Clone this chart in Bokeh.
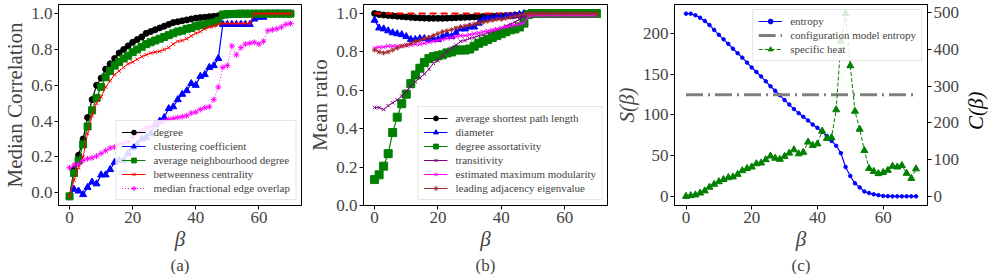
from bokeh.plotting import figure
from bokeh.layouts import row
from bokeh.models import Range1d, LinearAxis, Title, NumeralTickFormatter, Div
from bokeh.embed import file_html
from bokeh.resources import INLINE

# ---------------- data ----------------
beta = [0.0, 1.43, 2.86, 4.29, 5.71, 7.14, 8.57, 10.0, 11.43, 12.86, 14.29, 15.71, 17.14, 18.57,
        20.0, 21.43, 22.86, 24.29, 25.71, 27.14, 28.57, 30.0, 31.43, 32.86, 34.29, 35.71, 37.14,
        38.57, 40.0, 41.43, 42.86, 44.29, 45.71, 47.14, 48.57, 50.0, 51.43, 52.86, 54.29, 55.71,
        57.14, 58.57, 60.0, 61.43, 62.86, 64.29, 65.71, 67.14, 68.57, 70.0]

# (a) median correlation
corr_degree = [-0.02, 0.13, 0.21, 0.30, 0.42, 0.52, 0.60, 0.64, 0.69, 0.72, 0.75, 0.78, 0.80, 0.82,
               0.84, 0.855, 0.87, 0.89, 0.90, 0.91, 0.92, 0.93, 0.94, 0.95, 0.955, 0.96, 0.965, 0.97,
               0.975, 0.978, 0.98, 0.983, 0.985, 0.988, 0.99, 0.992, 0.994, 0.995, 0.996, 0.997,
               0.998, 0.998, 0.999, 0.999, 1.0, 1.0, 1.0, 1.0, 1.0, 1.0]
corr_clustering = [-0.02, 0.02, 0.01, -0.01, 0.03, 0.06, 0.05, 0.10, 0.10, 0.13, 0.17, 0.18, 0.18,
                   0.22, 0.25, 0.27, 0.30, 0.31, 0.33, 0.38, 0.40, 0.42, 0.47, 0.48, 0.52, 0.55,
                   0.57, 0.61, 0.60, 0.65, 0.66, 0.70, 0.71, 0.75, 0.94, 0.94, 0.94, 0.94, 0.94,
                   0.94, 0.94, 0.97, 0.98, 0.98, 1.0, 1.0, 1.0, 1.0, 1.0, 1.0]
corr_avg_nbr = [-0.02, 0.11, 0.18, 0.27, 0.37, 0.46, 0.53, 0.59, 0.645, 0.68, 0.71, 0.73, 0.75,
                0.765, 0.785, 0.80, 0.815, 0.83, 0.84, 0.85, 0.86, 0.87, 0.88, 0.89, 0.90, 0.905,
                0.915, 0.92, 0.93, 0.935, 0.94, 0.945, 0.95, 0.96, 0.995, 0.997, 0.998, 0.999,
                1.0, 1.0, 1.0, 1.0, 1.0, 1.0, 1.0, 1.0, 1.0, 1.0, 1.0, 1.0]
corr_betweenness = [-0.02, 0.07, 0.14, 0.20, 0.33, 0.43, 0.50, 0.535, 0.59, 0.625, 0.66, 0.68,
                    0.70, 0.72, 0.73, 0.745, 0.76, 0.77, 0.78, 0.785, 0.79, 0.80, 0.81, 0.83,
                    0.845, 0.85, 0.86, 0.875, 0.89, 0.90, 0.915, 0.925, 0.93, 0.94, 0.945, 0.945,
                    0.945, 0.945, 0.945, 0.945, 0.945, 1.0, 1.0, 1.0, 1.0, 1.0, 1.0, 1.0, 1.0, 1.0]
corr_overlap = [0.14, 0.155, 0.16, 0.18, 0.19, 0.195, 0.205, 0.22, 0.235, 0.25, 0.255, 0.27, 0.275,
                0.285, 0.31, 0.33, 0.345, 0.36, 0.37, 0.38, 0.39, 0.40, 0.41, 0.415, 0.42, 0.425,
                0.43, 0.445, 0.45, 0.465, 0.475, 0.48, 0.52, 0.59, 0.70, 0.71, 0.82, 0.77, 0.81,
                0.83, 0.835, 0.84, 0.83, 0.845, 0.905, 0.91, 0.915, 0.925, 0.94, 0.945]

# (b) mean ratio
ratio_aspl = [1.0, 0.995, 0.992, 0.99, 0.988, 0.986, 0.984, 0.982, 0.98, 0.978, 0.977, 0.976, 0.975,
              0.975, 0.975, 0.975, 0.976, 0.977, 0.978, 0.979, 0.98, 0.981, 0.982, 0.983, 0.984,
              0.985, 0.986, 0.987, 0.988, 0.989, 0.99, 0.991, 0.992, 0.994, 1.0, 1.0, 1.0, 1.0,
              1.0, 1.0, 1.0, 1.0, 1.0, 1.0, 1.0, 1.0, 1.0, 1.0, 1.0, 1.0]
ratio_diameter = [0.965, 0.925, 0.92, 0.91, 0.90, 0.895, 0.89, 0.88, 0.865, 0.865, 0.87, 0.87,
                  0.865, 0.87, 0.865, 0.88, 0.89, 0.88, 0.90, 0.92, 0.92, 0.93, 0.93, 0.95, 0.97,
                  0.975, 0.975, 0.98, 0.98, 0.985, 0.985, 0.99, 0.995, 1.0, 1.0, 1.0, 1.0, 1.0,
                  1.0, 1.0, 1.0, 1.0, 1.0, 1.0, 1.0, 1.0, 1.0, 1.0, 1.0, 1.0]
ratio_assort = [0.135, 0.16, 0.205, 0.27, 0.38, 0.46, 0.53, 0.58, 0.635, 0.68, 0.715, 0.745, 0.765,
                0.775, 0.78, 0.785, 0.795, 0.80, 0.81, 0.81, 0.81, 0.815, 0.83, 0.845, 0.855,
                0.865, 0.875, 0.885, 0.895, 0.905, 0.915, 0.92, 0.93, 0.95, 0.995, 1.0, 1.0, 1.0,
                1.0, 1.0, 1.0, 1.0, 1.0, 1.0, 1.0, 1.0, 1.0, 1.0, 1.0, 1.0]
ratio_transitivity = [0.51, 0.51, 0.50, 0.52, 0.535, 0.55, 0.57, 0.595, 0.62, 0.645, 0.665, 0.685,
                      0.71, 0.74, 0.755, 0.78, 0.80, 0.82, 0.835, 0.855, 0.86, 0.87, 0.875, 0.885,
                      0.89, 0.90, 0.905, 0.915, 0.925, 0.935, 0.945, 0.955, 0.97, 0.98, 0.995,
                      1.0, 1.0, 1.0, 1.0, 1.0, 1.0, 1.0, 1.0, 1.0, 1.0, 1.0, 1.0, 1.0, 1.0, 1.0]
ratio_modularity = [0.82, 0.825, 0.825, 0.83, 0.83, 0.83, 0.83, 0.835, 0.835, 0.84, 0.84, 0.845,
                    0.85, 0.855, 0.86, 0.865, 0.87, 0.875, 0.88, 0.885, 0.885, 0.89, 0.895, 0.90,
                    0.905, 0.91, 0.915, 0.92, 0.925, 0.93, 0.935, 0.94, 0.945, 0.95, 0.985, 0.99,
                    0.99, 0.99, 0.99, 0.99, 0.99, 0.99, 0.99, 0.99, 0.99, 0.99, 0.99, 0.99, 0.99, 0.99]
ratio_eigen = [0.81, 0.80, 0.795, 0.80, 0.81, 0.82, 0.83, 0.835, 0.845, 0.855, 0.86, 0.87, 0.875,
               0.885, 0.895, 0.905, 0.91, 0.915, 0.925, 0.93, 0.935, 0.94, 0.945, 0.95, 0.955,
               0.96, 0.965, 0.97, 0.97, 0.975, 0.98, 0.985, 0.99, 0.995, 1.0, 1.0, 1.0, 1.0, 1.0,
               1.0, 1.0, 1.0, 1.0, 1.0, 1.0, 1.0, 1.0, 1.0, 1.0, 1.0]
ratio_reference = 1.0

# (c) entropy and specific heat
entropy = [224, 224, 222, 219, 215, 210, 204, 198, 192.5, 187, 181, 175.5, 170, 164, 158, 152.5,
           147, 141, 135, 129.5, 124, 118, 112.5, 107, 102, 97.5, 93, 88, 84, 79, 74, 68, 62, 53,
           36, 25, 16, 11, 6, 4, 2.5, 1.5, 0.5, 0.2, 0, 0, 0, 0, 0, 0]
config_entropy = 124.5
specific_heat = [0, 2, 4, 9, 15, 25, 33, 40, 46, 51, 53, 60, 70, 76, 80, 89, 91, 100, 110, 104,
                 101, 109, 118, 127, 116, 120, 148, 139, 143, 178, 158, 160, 236, 423, 498, 356,
                 232, 183, 125, 76, 68, 62, 65, 71, 82, 80, 84, 63, 49, 75]

x_ticks = [0, 20, 40, 60]
SERIF = "Liberation Serif"
BLUE, GREEN, RED, MAG = "#0000ff", "#008000", "#ff0000", "#ff00ff"
FIG_H = 274


def style_axis(ax):
    ax.major_label_text_font = SERIF
    ax.major_label_text_font_size = "17px"
    ax.axis_label_text_font = SERIF
    ax.axis_label_text_font_size = "21px"
    ax.axis_label_text_font_style = "normal"
    ax.major_tick_in = 0
    ax.major_tick_out = 4
    ax.minor_tick_in = 0
    ax.minor_tick_out = 0
    ax.major_label_standoff = 2
    ax.axis_label_standoff = 1
    ax.axis_line_color = "black"
    ax.major_tick_line_color = "black"


def base(width, left, right, x_rng, y_rng, ylabel, panel):
    p = figure(width=width, height=FIG_H, output_backend="svg", toolbar_location=None,
               x_range=Range1d(*x_rng), y_range=Range1d(*y_rng),
               min_border_left=left, min_border_right=right, min_border_top=4,
               min_border_bottom=0)
    p.xgrid.visible = False
    p.ygrid.visible = False
    p.outline_line_color = "black"
    p.outline_line_width = 1
    p.outline_line_alpha = 1
    p.background_fill_color = "white"
    p.border_fill_color = "white"
    p.xaxis.axis_label = "β"
    p.yaxis.axis_label = ylabel
    p.xaxis.ticker = x_ticks
    for ax in p.axis:
        style_axis(ax)
    p.xaxis.axis_label_text_font_style = "italic"
    p.add_layout(Title(text=panel, align="center", text_font=SERIF, text_font_size="17px",
                       text_font_style="normal", standoff=0, offset=0), "below")
    return p


def style_legend(p, loc):
    lg = p.legend[0]
    lg.location = loc
    lg.label_text_font = SERIF
    lg.label_text_font_size = "11px"
    lg.glyph_width = 24
    lg.glyph_height = 12
    lg.label_height = 12
    lg.spacing = 2
    lg.padding = 5
    lg.margin = 5
    lg.label_standoff = 8
    lg.border_line_color = "#cccccc"
    lg.border_line_width = 1
    lg.background_fill_alpha = 0.85


def series(p, y, color, marker, size, label, dash="solid", lw=1.2, **kw):
    p.line(beta, y, line_color=color, line_width=lw, line_dash=dash, legend_label=label, **kw)
    p.scatter(beta, y, marker=marker, size=size, fill_color=color, line_color=color,
              legend_label=label, **kw)


# ---------------- panel (a) ----------------
pa = base(305, 48, 4, (-3.5, 73.5), (-0.071, 1.051), "Median Correlation", "(a)")
pa.yaxis.ticker = [0.0, 0.2, 0.4, 0.6, 0.8, 1.0]
pa.yaxis.formatter = NumeralTickFormatter(format="0.0")
series(pa, corr_degree, "black", "circle", 6, "degree")
series(pa, corr_clustering, BLUE, "triangle", 7, "clustering coefficient")
series(pa, corr_avg_nbr, GREEN, "square", 7, "average neighbourhood degree")
series(pa, corr_betweenness, RED, "x", 5, "betweenness centrality", lw=1.0)
series(pa, corr_overlap, MAG, "asterisk", 6, "median fractional edge overlap", dash="1 2", lw=1.0)
style_legend(pa, "bottom_right")

# ---------------- panel (b) ----------------
pb = base(306, 48, 4, (-3.5, 73.5), (0.0, 1.047), "Mean ratio", "(b)")
pb.yaxis.ticker = [0.0, 0.2, 0.4, 0.6, 0.8, 1.0]
pb.yaxis.formatter = NumeralTickFormatter(format="0.0")
series(pb, ratio_aspl, "black", "circle", 6, "average shortest path length")
pb.line([beta[0], beta[-1]], [ratio_reference, ratio_reference], line_color=RED,
        line_width=1.8, line_dash="7 4")
series(pb, ratio_diameter, BLUE, "triangle", 7, "diameter")
series(pb, ratio_assort, GREEN, "square", 8, "degree assortativity")
series(pb, ratio_transitivity, "#800080", "x", 5, "transitivity", lw=1.0)
series(pb, ratio_modularity, MAG, "x", 6, "estimated maximum modularity", lw=1.2)
series(pb, ratio_eigen, "#a52a2a", "asterisk", 5, "leading adjacency eigenvalue", lw=1.0)
style_legend(pb, "bottom_right")

# ---------------- panel (c) ----------------
pc = base(351, 52, 32, (-3.5, 73.5), (-11.2, 235.2), "S(β)", "(c)")
pc.yaxis.axis_label_text_font_style = "italic"
pc.yaxis.ticker = [0, 50, 100, 150, 200]
pc.extra_y_ranges = {"heat": Range1d(-24.9, 522.9)}
rax = LinearAxis(y_range_name="heat")
style_axis(rax)
rax.ticker = [0, 100, 200, 300, 400, 500]
pc.add_layout(rax, "right")
series(pc, entropy, BLUE, "circle", 3.5, "entropy")
pc.line([beta[0], beta[-1]], [config_entropy, config_entropy], line_color="#808080",
        line_width=3, line_dash="17 5 2 5", legend_label="configuration model entropy")
series(pc, specific_heat, GREEN, "triangle", 7, "specific heat", dash="4 2", lw=1.0,
       y_range_name="heat")
style_legend(pc, "top_right")

# right-hand axis title C(β), reading bottom-to-top like the reference
c_label = Div(
    text=('<div style="height:212px;width:18px;writing-mode:vertical-rl;'
          'transform:rotate(180deg);text-align:center;font-family:\'Liberation Serif\';'
          'font-style:italic;font-size:21px;line-height:18px;color:black;">C(β)</div>'),
    width=18, height=FIG_H)

layout = row(pa, pb, pc, c_label)
open("out.html", "w").write(file_html(layout, INLINE))
